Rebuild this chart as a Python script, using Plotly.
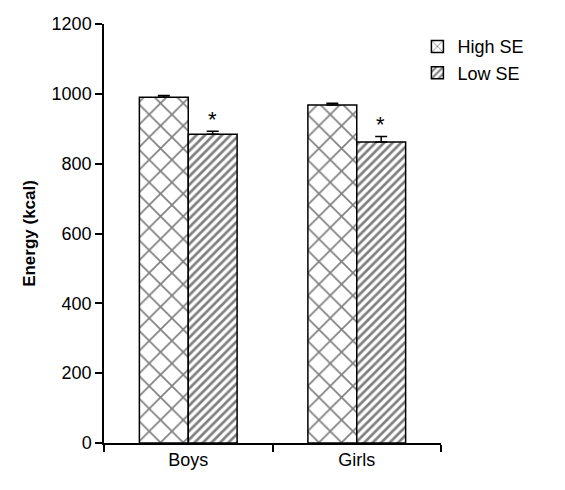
import plotly.graph_objects as go

categories = ["Boys", "Girls"]
high_se = [990, 968]
high_se_err = [5, 5]
low_se = [884, 862]
low_se_err = [9, 16]
sig_marks = ["*", "*"]

FONT = "Liberation Sans Narrow, Liberation Sans, Arial, sans-serif"

fig = go.Figure()
fig.add_trace(go.Bar(
    name="High SE", x=categories, y=high_se,
    marker=dict(color="white", line=dict(color="black", width=1.5),
                pattern=dict(shape="x", size=16, solidity=0.2, fgcolor="black", bgcolor="white")),
    error_y=dict(type="data", array=high_se_err, arrayminus=[0, 0], symmetric=False,
                 color="black", thickness=1.5, width=6),
))
fig.add_trace(go.Bar(
    name="Low SE", x=categories, y=low_se,
    marker=dict(color="white", line=dict(color="black", width=1.5),
                pattern=dict(shape="/", size=6, solidity=0.45, fgcolor="black", bgcolor="white")),
    error_y=dict(type="data", array=low_se_err, arrayminus=[0, 0], symmetric=False,
                 color="black", thickness=1.5, width=6),
))

for cat, v, e, m in zip(categories, low_se, low_se_err, sig_marks):
    fig.add_annotation(x=cat, y=v + e, text=m, showarrow=False, xshift=24,
                       yanchor="bottom", yshift=-3, font=dict(size=22, color="black", family=FONT))

fig.update_layout(
    width=565, height=490,
    margin=dict(l=104, r=124, t=24, b=47),
    paper_bgcolor="white", plot_bgcolor="white",
    barmode="group", bargap=0.42, bargroupgap=0,
    font=dict(family=FONT, size=18, color="black"),
    showlegend=True,
    legend=dict(x=0.93, y=0.99, xanchor="left", yanchor="top",
                font=dict(size=18), itemwidth=30, tracegroupgap=4, bgcolor="rgba(0,0,0,0)"),
    xaxis=dict(showline=True, linecolor="black", linewidth=1.5, ticks="outside",
               tickson="boundaries", ticklen=7, tickcolor="black", tickwidth=1.5,
               showgrid=False, zeroline=False, tickfont=dict(size=18)),
    yaxis=dict(range=[0, 1200], dtick=200, showline=True, linecolor="black", linewidth=1.5,
               ticks="outside", ticklen=7, tickcolor="black", tickwidth=1.5,
               showgrid=False, zeroline=False, tickfont=dict(size=18),
               title=dict(text="<b>Energy (kcal)</b>", font=dict(size=17,
                          family="Liberation Sans, Arial, sans-serif"), standoff=12)),
)

fig.write_html("out.html")
